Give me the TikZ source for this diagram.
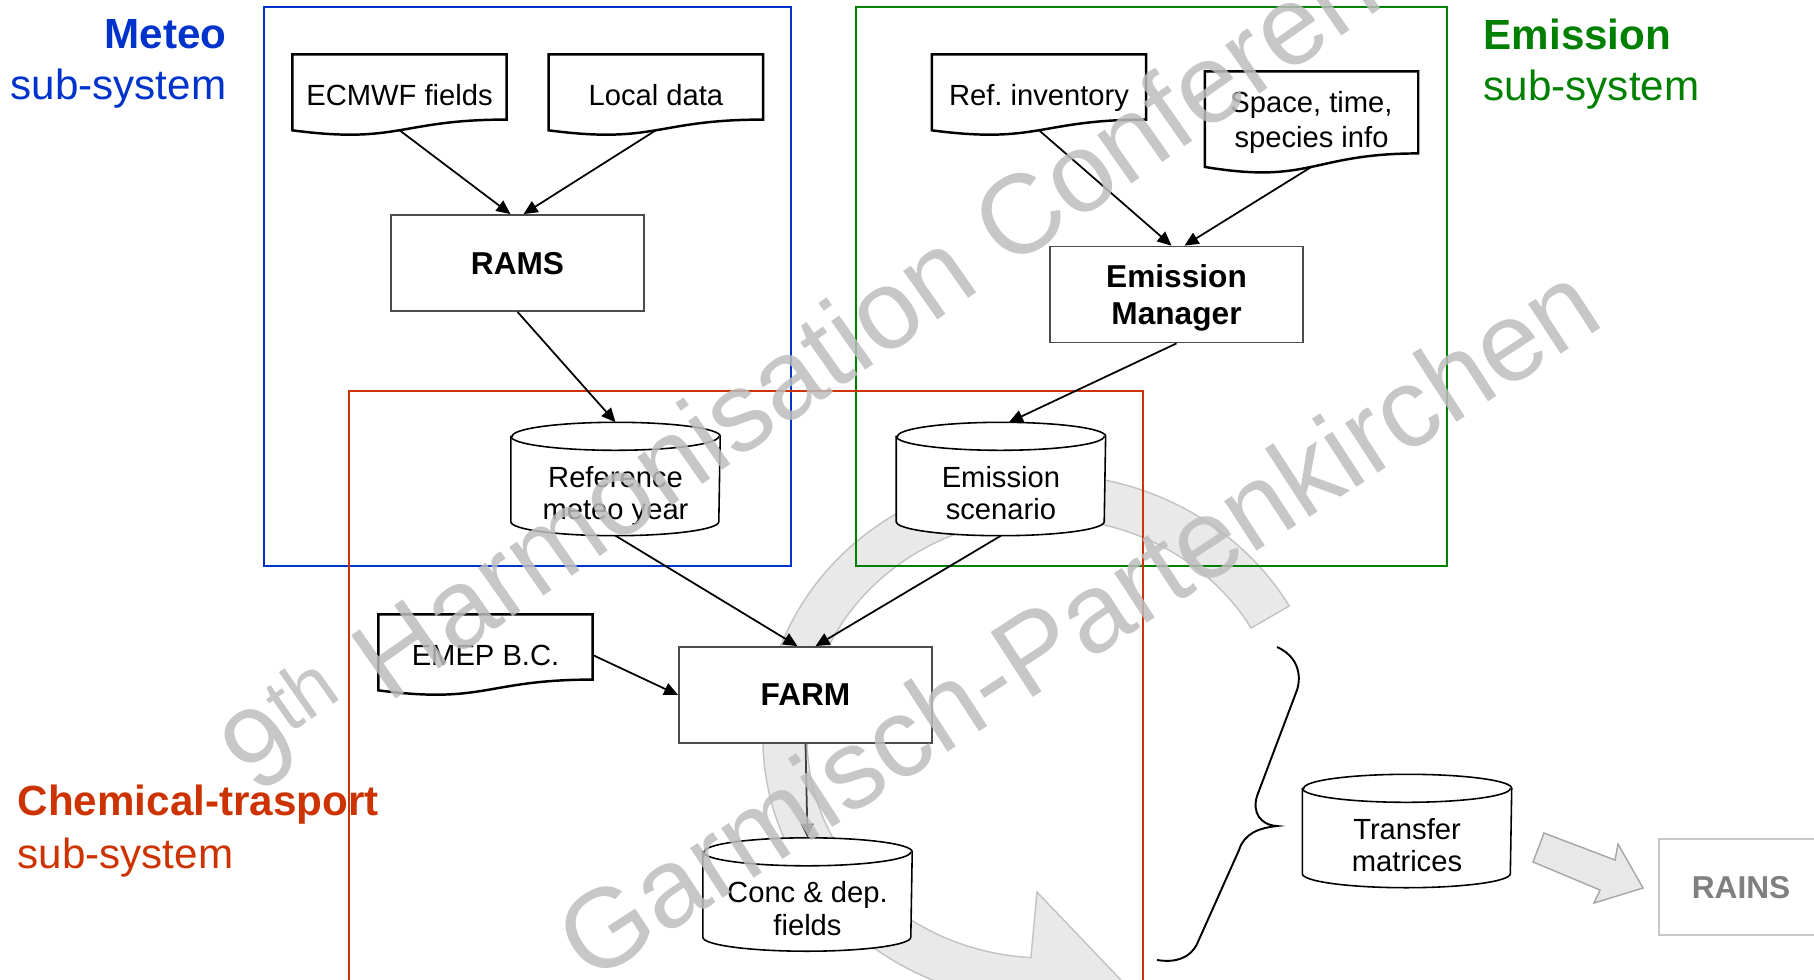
\documentclass[tikz,border=0pt]{standalone}
\usepackage{fontspec}
\setmainfont{Liberation Sans}
\usetikzlibrary{arrows.meta,positioning,calc}

\definecolor{meteoblue}{HTML}{0033CC}
\definecolor{emisgreen}{HTML}{008000}
\definecolor{chemred}{HTML}{CC3300}
\definecolor{wmgray}{HTML}{BDBDBD}
\definecolor{bandfill}{HTML}{E9E9E9}
\definecolor{bandline}{HTML}{C2C2C2}

\pgfdeclarelayer{back}
\pgfdeclarelayer{shapes}
\pgfsetlayers{back,shapes,main}

% document outline with wavy bottom
\newcommand{\docshape}[1]{%
  \coordinate (#1-b) at ($(#1.north)!0.933!(#1.south)$);
  \draw[docline] (#1.north west) -- (#1.north east)
    -- ($(#1.north east)!0.802!(#1.south east)$)
    .. controls ($(#1.north)!0.802!(#1.south)$) and ($(#1.north)!1.1075!(#1.south)$)
    .. ($(#1.north west)!0.934!(#1.south west)$) -- cycle;}

% database cylinder round the node
\newcommand{\dbshape}[1]{%
  \coordinate (#1-t) at ($(#1.north)+(0,0.28)$);
  \draw[dbline] ($(#1.north west)+(0,0.14)$) -- ($(#1.south west)+(0,0.14)$)
    arc[start angle=180,end angle=360,x radius=1.04,y radius=0.14]
    -- ($(#1.north east)+(0,0.14)$)
    arc[start angle=0,end angle=180,x radius=1.04,y radius=0.14] -- cycle;
  \draw[dbline,fill=none] ($(#1.north west)+(0,0.14)$)
    arc[start angle=180,end angle=360,x radius=1.04,y radius=0.14];}

\begin{document}
\begin{tikzpicture}[>={Triangle[length=4pt,width=3.6pt]},
  proc/.style={draw=black!70,fill=white,line width=0.5pt,minimum width=2.53cm,minimum height=0.96cm,inner sep=0pt,text depth=0pt,align=center,font=\fontsize{9}{10.5}\selectfont\bfseries},
  procgray/.style={proc,draw=black!22,text=black!50,minimum width=1.64cm},
  doc/.style={minimum width=2.13cm,minimum height=0.8cm,inner sep=0pt,align=center,font=\fontsize{8.3}{10.2}\selectfont},
  db/.style={minimum width=2.08cm,minimum height=0.84cm,inner sep=0pt,text depth=0pt,align=center,font=\fontsize{8.3}{9.2}\selectfont},
  docline/.style={draw=black,fill=white,line width=0.7pt},
  dbline/.style={draw=black,fill=white,line width=0.45pt},
  title/.style={inner sep=0pt,font=\fontsize{12}{14.4}\selectfont},
  wmark/.style={text=wmgray,text opacity=0.85,inner sep=0pt,font=\fontsize{32}{38}\selectfont},
  link/.style={line width=0.5pt}]

\clip (0,0) rectangle (18.14,-9.79);

\node[title,meteoblue,align=right,anchor=east]  (meteo) at (2.27,-0.64)  {\textbf{Meteo}\\sub-system};
\node[title,emisgreen,align=left,anchor=west]   (emis)  at (14.83,-0.64) {\textbf{Emission}\\sub-system};
\node[title,chemred,align=left,anchor=west,font=\fontsize{12}{15}\selectfont] (chem) at (0.17,-8.31) {\textbf{Chemical-trasport}\\sub-system};

\node[doc]   (ecmwf)  at (3.995,-0.95)          {ECMWF fields};
\node[doc]   (local)  [right=0.42cm of ecmwf]   {Local data};
\node[doc,text depth=0pt] (refinv) at (10.39,-0.95) {Ref.\ inventory};
\node[doc,minimum width=2.12cm,minimum height=1.01cm] (space) at (13.115,-1.225) {Space, time,\\species info};
\node[proc]  (rams)   at (5.175,-2.63)          {RAMS};
\node[proc]  (emman)  at (11.765,-2.945)        {Emission\\Manager};
\node[db]    (refmet) at (6.155,-4.93)          {Reference\\meteo year};
\node[db]    (emscen) [right=1.76cm of refmet]  {Emission\\scenario};
\node[doc]   (emep)   at (4.855,-6.55)          {EMEP B.C.};
\node[proc]  (farm)   at (8.055,-6.95)          {FARM};
\node[db]    (conc)   at (8.075,-9.085)         {Conc \& dep.\\fields};
\node[db]    (transf) at (14.07,-8.45)          {Transfer\\matrices};
\node[procgray] (rains) at (17.41,-8.87)        {RAINS};

\begin{pgfonlayer}{back}
\fill[bandfill,draw=bandline,line width=0.4pt] (12.892,-6.06)
  arc[start angle=30,end angle=266.6,x radius=2.82,y radius=2.64]
  -- (10.25,-10.68) -- (11.40,-10.0) -- (10.37,-8.92) -- (10.309,-9.576)
  arc[start angle=266.6,end angle=30,x radius=2.38,y radius=2.20] -- cycle;
\draw[meteoblue,line width=0.6pt] (2.64,-0.07) rectangle (7.91,-5.66);
\draw[emisgreen,line width=0.6pt] (8.56,-0.07) rectangle (14.47,-5.66);
\draw[chemred,line width=0.5pt] (3.49,-9.9) -- (3.49,-3.91) -- (11.43,-3.91) -- (11.43,-9.9);
\end{pgfonlayer}

\begin{pgfonlayer}{shapes}
\docshape{ecmwf}
\docshape{local}
\docshape{refinv}
\docshape{space}
\docshape{emep}
\dbshape{refmet}
\dbshape{emscen}
\dbshape{conc}
\dbshape{transf}
\end{pgfonlayer}

\path[->,link] (ecmwf-b)      edge ([xshift=-0.07cm]rams.north)
               (local-b)      edge ([xshift=0.06cm]rams.north)
               (rams.south)   edge (refmet-t)
               (refinv-b)     edge ([xshift=-0.05cm]emman.north)
               (space-b)      edge ([xshift=0.08cm]emman.north)
               (emman.south)  edge ([xshift=0.08cm]emscen-t)
               (refmet.south) edge ([xshift=-0.08cm]farm.north)
               (emscen.south) edge ([xshift=0.1cm]farm.north)
               (emep.east)    edge (farm.west);
\draw[->,link,black!75] (farm.south) -- (conc-t);

\draw[line width=0.55pt] (12.77,-6.47) .. controls (12.97,-6.56) and (13.02,-6.74) .. (12.97,-6.90)
  -- (12.57,-7.96) .. controls (12.52,-8.12) and (12.60,-8.25) .. (12.77,-8.26)
  .. controls (12.58,-8.28) and (12.44,-8.34) .. (12.39,-8.50)
  -- (11.97,-9.44) .. controls (11.90,-9.58) and (11.76,-9.63) .. (11.57,-9.60);

\fill[black!9,draw=black!35,line width=0.4pt] (15.44,-8.33) -- (16.15,-8.60) -- (16.18,-8.44)
  -- (16.43,-8.88) -- (15.94,-9.03) -- (16.00,-8.90) -- (15.33,-8.62) -- cycle;

\node[wmark,rotate=35,anchor=base west] (conf)  at (2.56,-7.97) {9\textsuperscript{th} Harmonisation Conference};
\node[wmark,rotate=33,anchor=base west] (venue) at (5.90,-9.85) {Garmisch-Partenkirchen};
\end{tikzpicture}
\end{document}
